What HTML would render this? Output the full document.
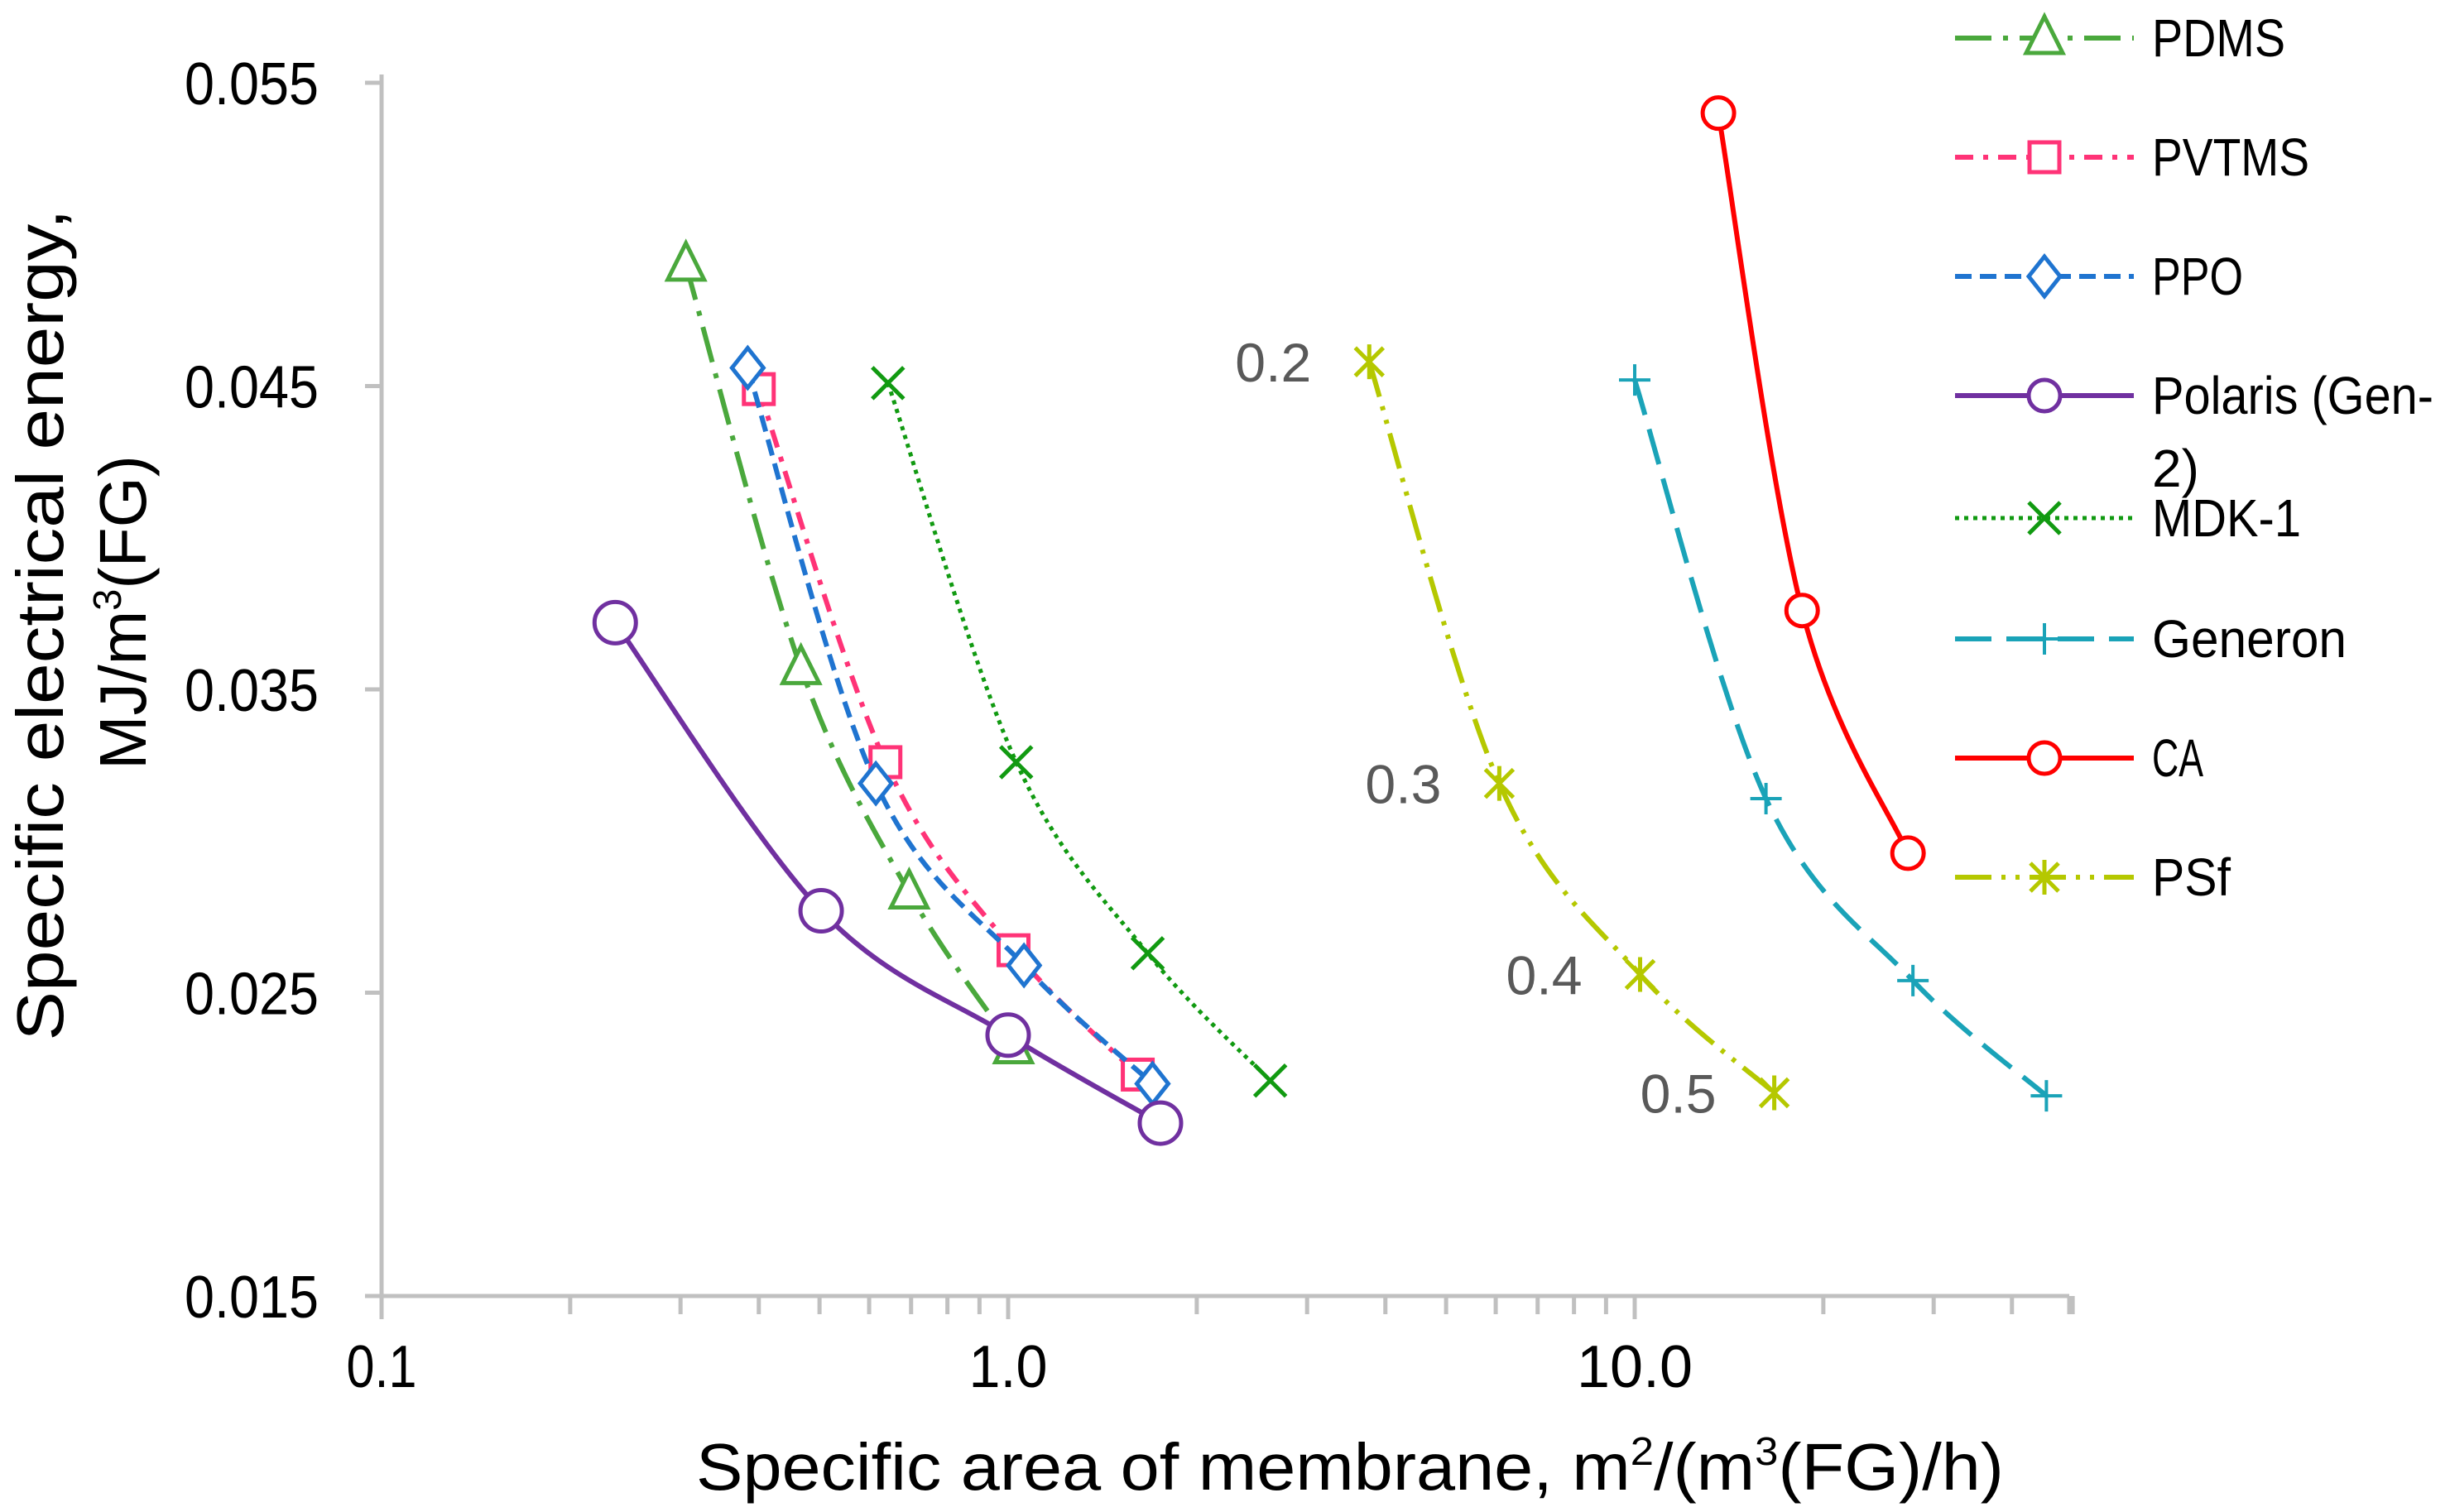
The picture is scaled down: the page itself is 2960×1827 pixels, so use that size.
<!DOCTYPE html>
<html><head><meta charset="utf-8"><style>
html,body{margin:0;padding:0;background:#fff;}
svg{display:block;font-family:"Liberation Sans",sans-serif;}
</style></head><body>
<svg id="chart" width="2960" height="1827" viewBox="0 0 2960 1827" xmlns="http://www.w3.org/2000/svg">
<g id="axes"></g>
<g id="series"></g>
<g id="legend"></g>
<text x="1631" y="1800" font-size="80" text-anchor="middle" textLength="1580" lengthAdjust="spacingAndGlyphs">Specific area of membrane, m<tspan font-size="48" dy="-30">2</tspan><tspan dy="30">/(m</tspan><tspan font-size="48" dy="-30">3</tspan><tspan dy="30">(FG)/h)</tspan></text>
<text transform="translate(76,755) rotate(-90)" font-size="80" text-anchor="middle" textLength="1005" lengthAdjust="spacingAndGlyphs">Specific electrical energy,</text>
<text transform="translate(176,740) rotate(-90)" font-size="80" text-anchor="middle" textLength="380" lengthAdjust="spacingAndGlyphs">MJ/m<tspan font-size="48" dy="-30">3</tspan><tspan dy="30">(FG)</tspan></text>
</svg>
<script>
const xTicks=[0.1,1.0,10.0];
const xTickLabels=["0.1","1.0","10.0"];
const yTicks=[0.015,0.025,0.035,0.045,0.055];
const yTickLabels=["0.015","0.025","0.035","0.045","0.055"];
const seriesNames=["PDMS","PVTMS","PPO","Polaris (Gen-2)","MDK-1","Generon","CA","PSf"];
const pdmsX=[0.306,0.467,0.695,1.02], pdmsY=[0.0490,0.0357,0.0283,0.0232];
const pvtmsX=[0.40,0.637,1.02,1.61], pvtmsY=[0.0449,0.0326,0.0264,0.0223];
const ppoX=[0.384,0.615,1.06,1.70], ppoY=[0.0456,0.0319,0.0259,0.0220];
const polarisX=[0.236,0.503,1.0,1.75], polarisY=[0.0372,0.0277,0.0236,0.0207];
const mdkX=[0.643,1.03,1.67,2.62], mdkY=[0.0451,0.0326,0.0263,0.0221];
const generonX=[10.0,16.2,27.8,45.4], generonY=[0.0452,0.0314,0.0254,0.0216];
const caX=[13.6,18.5,27.3], caY=[0.0540,0.0376,0.0296];
const psfX=[3.77,6.08,10.2,16.7], psfY=[0.0458,0.0319,0.0256,0.0217];
const psfLabels=["0.2","0.3","0.4","0.5"];

const NS="http://www.w3.org/2000/svg";
const L=461,R=2500,T=100,B=1566;
function xs(v){return L+757*(Math.log10(v)+1);}
function ys(v){return B-(v-0.015)/0.01*366.5;}
function mk(tag,attrs,parent){const e=document.createElementNS(NS,tag);for(const k in attrs)e.setAttribute(k,attrs[k]);parent.appendChild(e);return e;}
const axes=document.getElementById('axes');
const ser=document.getElementById('series');
const leg=document.getElementById('legend');
let a=mk('line',{x1:L,y1:T-10,x2:L,y2:B,stroke:'#c0c0c0','stroke-width':5},axes);


a=mk('line',{x1:L-20,y1:B,x2:R,y2:B,stroke:'#c0c0c0','stroke-width':5},axes);


yTicks.forEach((v,i)=>{
  const y=ys(v);
  let t=mk('line',{x1:L-20,y1:y,x2:L,y2:y,stroke:'#c0c0c0','stroke-width':5},axes);
  
  
  let tx=mk('text',{x:L-76,y:y+26,'font-size':72,'text-anchor':'end',textLength:162,lengthAdjust:'spacingAndGlyphs'},axes);
  tx.textContent=yTickLabels[i];
  
  
});
for(let d=-1;d<=1;d++){for(let m=1;m<=9;m++){
  const v=m*Math.pow(10,d); if(v>50.001)break;
  const x=xs(v);
  let t=mk('line',{x1:x,y1:B,x2:x,y2:B+(m===1?28:22),stroke:'#c0c0c0','stroke-width':5},axes);
  
  
}}
let te=mk('line',{x1:R,y1:B,x2:R,y2:B+22,stroke:'#c0c0c0','stroke-width':5},axes);


const xLabW=[85,95,140];
xTicks.forEach((v,i)=>{
  let tx=mk('text',{x:xs(v),y:B+110,'font-size':72,'text-anchor':'middle',textLength:xLabW[i],lengthAdjust:'spacingAndGlyphs'},axes);
  tx.textContent=xTickLabels[i];
  
  
});
function smooth(P){
  let d=`M${P[0][0]},${P[0][1]}`;
  for(let i=0;i<P.length-1;i++){
    const p0=P[i-1]||P[i],p1=P[i],p2=P[i+1],p3=P[i+2]||P[i+1];
    const c1=[p1[0]+(p2[0]-p0[0])/6,p1[1]+(p2[1]-p0[1])/6];
    const c2=[p2[0]-(p3[0]-p1[0])/6,p2[1]-(p3[1]-p1[1])/6];
    d+=` C${c1[0]},${c1[1]} ${c2[0]},${c2[1]} ${p2[0]},${p2[1]}`;
  }
  return d;
}
function marker(g,type,x,y,color){
  let e;
  if(type==='tri') e=mk('path',{d:`M${x},${y-26} L${x+22},${y+18} L${x-22},${y+18} Z`,fill:'#fff',stroke:color,'stroke-width':5},g);
  else if(type==='sq') e=mk('rect',{x:x-18,y:y-18,width:36,height:36,fill:'#fff',stroke:color,'stroke-width':5},g);
  else if(type==='dia') e=mk('path',{d:`M${x},${y-24} L${x+19},${y} L${x},${y+24} L${x-19},${y} Z`,fill:'#fff',stroke:color,'stroke-width':5},g);
  else if(type==='circ') e=mk('circle',{cx:x,cy:y,r:25,fill:'#fff',stroke:color,'stroke-width':5},g);
  else if(type==='circs') e=mk('circle',{cx:x,cy:y,r:19,fill:'#fff',stroke:color,'stroke-width':5},g);
  else if(type==='x') e=mk('path',{d:`M${x-19},${y-19} L${x+19},${y+19} M${x+19},${y-19} L${x-19},${y+19}`,stroke:color,'stroke-width':5,fill:'none'},g);
  else if(type==='plus') e=mk('path',{d:`M${x-19},${y} L${x+19},${y} M${x},${y-19} L${x},${y+19}`,stroke:color,'stroke-width':4,fill:'none'},g);
  else if(type==='star') e=mk('path',{d:`M${x-17},${y-17} L${x+17},${y+17} M${x+17},${y-17} L${x-17},${y+17} M${x},${y-21} L${x},${y+21}`,stroke:color,'stroke-width':5,fill:'none'},g);
  
  
}
const defs=[
 {xs:pdmsX,ys:pdmsY,c:'#4aa83c',dash:'44 14 6 14',m:'tri',w:6},
 {xs:pvtmsX,ys:pvtmsY,c:'#ff3377',dash:'22 12 6 12',m:'sq',w:6},
 {xs:ppoX,ys:ppoY,c:'#1f74d0',dash:'20 10',m:'dia',w:6},
 {xs:polarisX,ys:polarisY,c:'#7030a0',dash:'',m:'circ',w:6},
 {xs:mdkX,ys:mdkY,c:'#119a11',dash:'5 6',m:'x',w:5},
 {xs:generonX,ys:generonY,c:'#1aa3b8',dash:'44 18',m:'plus',w:6},
 {xs:caX,ys:caY,c:'#ff0000',dash:'',m:'circs',w:6},
 {xs:psfX,ys:psfY,c:'#b5c800',dash:'44 12 5 12 5 12',m:'star',w:6}
];
defs.forEach((s,si)=>{
  const g=mk('g',{},ser);
  
  
  const P=s.xs.map((v,i)=>[xs(v),ys(s.ys[i])]);
  const p=mk('path',{d:smooth(P),fill:'none',stroke:s.c,'stroke-width':s.w,'stroke-dasharray':s.dash},g);
  
  
  P.forEach(q=>marker(g,s.m,q[0],q[1],s.c));
});
psfX.forEach((v,i)=>{
  const t=mk('text',{x:xs(v)-70,y:ys(psfY[i])+24,'font-size':66,'text-anchor':'end',fill:'#595959',textLength:92,lengthAdjust:'spacingAndGlyphs'},ser);
  t.textContent=psfLabels[i];
  
  
});
const legY=[46,190,334,478,626,772,916,1060];
const legW=[161,190,110,340,180,235,62,95];
defs.forEach((s,i)=>{
  const g=mk('g',{},leg);
  
  
  const y=legY[i];
  const l=mk('line',{x1:2362,y1:y,x2:2578,y2:y,stroke:s.c,'stroke-width':s.w,'stroke-dasharray':s.dash},g);
  
  
  marker(g,s.m==='circ'?'circs':s.m,2470,y,s.c);
  const t=mk('text',{x:2600,y:y+22,'font-size':64,textLength:legW[i],lengthAdjust:'spacingAndGlyphs'},g);
  
  
  if(i===3){t.textContent='Polaris (Gen-';
    const t2=mk('text',{x:2600,y:y+110,'font-size':64},g);t2.textContent='2)';
    
    
  } else t.textContent=seriesNames[i];
});
</script>
</body></html>
